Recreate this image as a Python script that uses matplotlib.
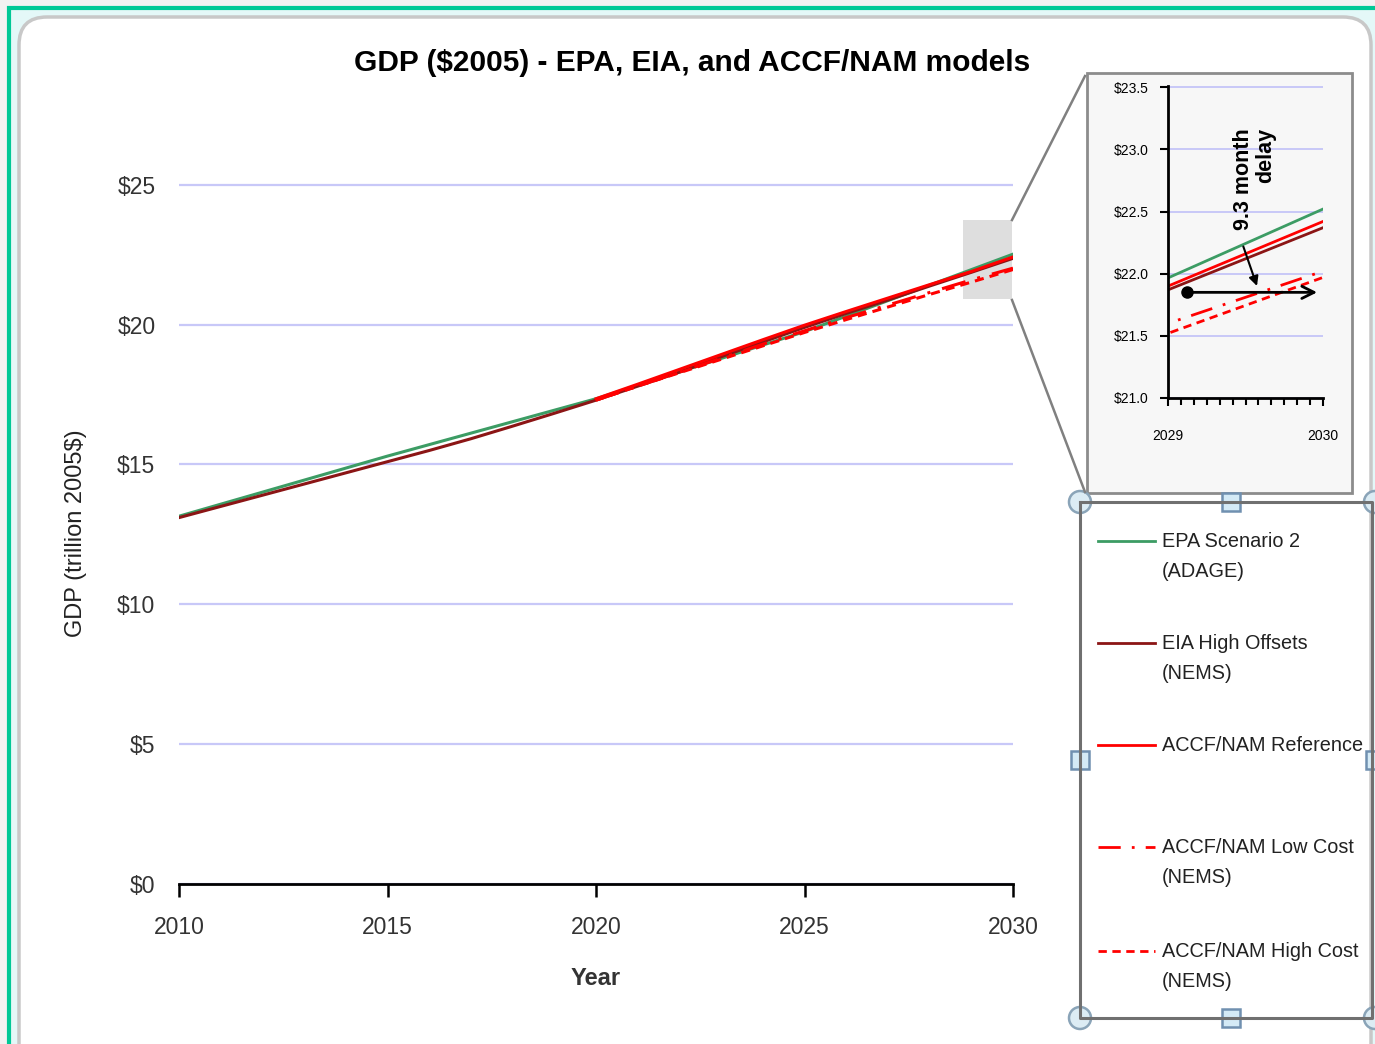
import matplotlib.pyplot as plt
from matplotlib.patches import Rectangle, FancyBboxPatch, Circle
from matplotlib.ticker import FuncFormatter, MultipleLocator

plt.rcParams['font.family'] = ['Liberation Sans', 'DejaVu Sans']

years = list(range(2010, 2031))
epa_years = [2010, 2015, 2020, 2025, 2030]
accf_years = list(range(2020, 2031))

# trillion 2005$
epa_scenario2 = [13.15, 15.3, 17.35, 19.75, 22.52]
eia_high_offsets = [13.1, 13.5, 13.9, 14.3, 14.7, 15.1, 15.5, 15.92, 16.37, 16.83, 17.3,
                    17.8, 18.3, 18.85, 19.38, 19.9, 20.4, 20.88, 21.38, 21.87, 22.37]
accf_reference = [17.35, 17.87, 18.4, 18.93, 19.46, 19.98, 20.47, 20.95, 21.43, 21.9, 22.42]
accf_low_cost = [17.3, 17.8, 18.3, 18.8, 19.3, 19.78, 20.25, 20.7, 21.15, 21.6, 22.02]
accf_high_cost = [17.3, 17.8, 18.28, 18.76, 19.24, 19.72, 20.18, 20.63, 21.08, 21.52, 21.97]

labels = ['EPA Scenario 2\n(ADAGE)', 'EIA High Offsets\n(NEMS)', 'ACCF/NAM Reference',
          'ACCF/NAM Low Cost\n(NEMS)', 'ACCF/NAM High Cost\n(NEMS)']
colors = ['#3c9c64', '#8b1515', '#ff0000', '#ff0000', '#ff0000']
styles = ['-', '-', '-', (0, (8, 4, 1, 4)), (0, (3, 2))]
series = [(epa_years, epa_scenario2), (years, eia_high_offsets), (accf_years, accf_reference),
          (accf_years, accf_low_cost), (accf_years, accf_high_cost)]

# zoom window and delay annotation
zoom_x = (2028.8, 2029.98)
zoom_y = (20.9, 23.75)
delay_start = (2029.12, 21.85)
delay_end = 2029.98
delay_text = '9.3 month\ndelay'

fig = plt.figure(figsize=(13.75, 10.44), dpi=100)
fig.patch.set_facecolor('#f2f2f2')

# background frame in pixel coords
bg = fig.add_axes([0, 0, 1, 1], zorder=-2)
bg.set_xlim(0, 1375)
bg.set_ylim(1044, 0)
bg.axis('off')
bg.add_patch(Rectangle((9, 8), 1400, 1100, facecolor='#e4f8f8', edgecolor='#00c896', lw=3))
bg.add_patch(FancyBboxPatch((19, 17), 1352, 1060, boxstyle='round,pad=0,rounding_size=28',
                            facecolor='white', edgecolor='#c8c8c8', lw=2.5))
bg.add_patch(Rectangle((1087, 73), 265, 420, facecolor='#f7f7f7', edgecolor='#8c8c8c', lw=2))

# main chart
ax = fig.add_axes([179 / 1375, 1 - 884 / 1044, 834 / 1375, 702 / 1044])
ax.set_facecolor('none')
for (x, y), c, ls in zip(series, colors, styles):
    ax.plot(x, y, color=c, linestyle=ls, lw=2.2)
ax.add_patch(Rectangle((zoom_x[0], zoom_y[0]), zoom_x[1] - zoom_x[0], zoom_y[1] - zoom_y[0],
                       facecolor='#dedede', edgecolor='none', zorder=0))
ax.set_xlim(2010, 2030)
ax.set_ylim(0, 25.1)
ax.set_xticks([2010, 2015, 2020, 2025, 2030])
ax.set_yticks([0, 5, 10, 15, 20, 25])
ax.yaxis.set_major_formatter(FuncFormatter(lambda v, p: f'${v:.0f}'))
ax.grid(axis='y', color='#c8c8f8', lw=1.6)
ax.set_axisbelow(True)
for s in ['top', 'right', 'left']:
    ax.spines[s].set_visible(False)
ax.spines['bottom'].set_linewidth(2)
ax.spines['bottom'].set_zorder(3)
ax.tick_params(axis='x', direction='out', length=9, width=1.8, labelsize=16.5, pad=14, colors='black')
ax.tick_params(axis='y', length=0, labelsize=16.5, pad=17)
for lab in ax.get_xticklabels() + ax.get_yticklabels():
    lab.set_color('#333333')
ax.set_xlabel('Year', fontsize=17, fontweight='bold', color='#333333', labelpad=20)
ax.set_ylabel('GDP (trillion 2005$)', fontsize=17, color='#222222', labelpad=22)
fig.text(692 / 1375, 1 - 63 / 1044, 'GDP ($2005) - EPA, EIA, and ACCF/NAM models',
         ha='center', va='center', fontsize=21.5, fontweight='bold')

# inset
ins = fig.add_axes([1168 / 1375, 1 - 398 / 1044, 155 / 1375, 312 / 1044])
ins.set_facecolor('none')
for (x, y), c, ls in zip(series, colors, styles):
    ins.plot(x, y, color=c, linestyle=ls, lw=2)
ins.set_xlim(2029, 2030)
ins.set_ylim(21.0, 23.51)
ins.set_xticks([2029, 2030])
ins.xaxis.set_major_formatter(FuncFormatter(lambda v, p: f'{v:.0f}'))
ins.xaxis.set_minor_locator(MultipleLocator(1 / 12))
ins.set_yticks([21.0, 21.5, 22.0, 22.5, 23.0, 23.5])
ins.yaxis.set_major_formatter(FuncFormatter(lambda v, p: f'${v:.1f}'))
ins.grid(axis='y', color='#c8c8f8', lw=1.4)
ins.set_axisbelow(True)
for s in ['top', 'right']:
    ins.spines[s].set_visible(False)
ins.spines['left'].set_linewidth(2)
ins.spines['bottom'].set_linewidth(2)
ins.tick_params(axis='both', which='major', direction='out', length=6, width=1.5, labelsize=10)
ins.tick_params(axis='x', which='minor', direction='out', length=5, width=1.5)
ins.tick_params(axis='x', pad=16)
ins.tick_params(axis='y', pad=8)
ins.plot(*delay_start, 'o', color='black', ms=8, clip_on=False)
ins.annotate('', xy=(delay_end, delay_start[1]), xytext=delay_start,
             arrowprops=dict(arrowstyle='->', color='black', lw=2, mutation_scale=22))
ins.annotate('', xy=(2029.58, 21.88), xytext=(2029.48, 22.24),
             arrowprops=dict(arrowstyle='-|>', color='black', lw=1.5, mutation_scale=14))
ins.text(2029.56, 22.76, delay_text, rotation=90, ha='center', va='center',
         multialignment='right', fontsize=15.5, fontweight='bold', linespacing=1.05)

# overlay: connectors and legend frame
top = fig.add_axes([0, 0, 1, 1], zorder=5)
top.set_facecolor('none')
top.set_xlim(0, 1375)
top.set_ylim(1044, 0)
top.axis('off')
top.plot([1012, 1085], [220, 76], color='#808080', lw=1.8)
top.plot([1012, 1085], [300, 492], color='#808080', lw=1.8)
top.plot([1080, 1372, 1372, 1080, 1080], [502, 502, 1018, 1018, 502], color='#707070', lw=2.2)
for cx, cy in [(1080, 502), (1375, 502), (1080, 1018), (1375, 1018)]:
    top.add_patch(Circle((cx, cy), 11, facecolor='#dcecf4', edgecolor='#8aa4b8', lw=1.8))
for cx, cy in [(1231, 502), (1231, 1018), (1080, 760), (1375, 760)]:
    top.add_patch(Rectangle((cx - 9, cy - 9), 18, 18, facecolor='#d4eaf6', edgecolor='#7090b0', lw=1.8))

legend_y = [541, 643, 745, 847, 951]
for ly, lab, c, ls in zip(legend_y, labels, colors, styles):
    top.plot([1098, 1155], [ly, ly], color=c, linestyle=ls, lw=2)
    top.text(1162, ly - 9, lab, ha='left', va='top', fontsize=14.3, color='#222222', linespacing=1.75)

fig.savefig('out.png', dpi=100, facecolor=fig.get_facecolor())
